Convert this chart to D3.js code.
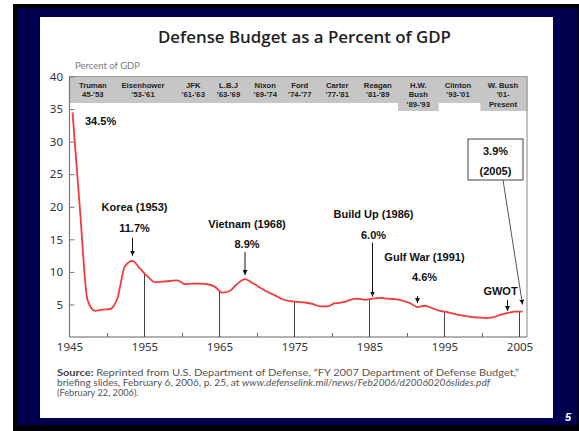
<!DOCTYPE html>
<html>
<head>
<meta charset="utf-8">
<script src="https://cdn.jsdelivr.net/npm/d3@7/dist/d3.min.js"></script>
<style>
body { margin: 0; background: #fff; }
svg { display: block; }
</style>
</head>
<body>
<svg id="chart" width="579" height="431"></svg>
<script>
// Defense budget as a percent of GDP, 1945-2005

var years = [1945, 1946, 1947, 1948, 1949, 1950, 1951, 1952, 1953, 1954,
	1955, 1956, 1957, 1958, 1959, 1960, 1961, 1962, 1963, 1964,
	1965, 1966, 1967, 1968, 1969, 1970, 1971, 1972, 1973, 1974,
	1975, 1976, 1977, 1978, 1979, 1980, 1981, 1982, 1983, 1984,
	1985, 1986, 1987, 1988, 1989, 1990, 1991, 1992, 1993, 1994,
	1995, 1996, 1997, 1998, 1999, 2000, 2001, 2002, 2003, 2004, 2005];
var pctGdp = [34.5, 19.5, 5.7, 4.0, 4.2, 4.3, 6.0, 10.9, 11.7, 10.5,
	9.3, 8.4, 8.5, 8.6, 8.7, 8.1, 8.2, 8.2, 8.1, 7.7,
	6.8, 7.1, 8.2, 8.9, 8.3, 7.6, 6.9, 6.4, 5.8, 5.5,
	5.4, 5.3, 5.1, 4.7, 4.7, 5.2, 5.3, 5.7, 5.9, 5.7,
	5.9, 6.0, 5.9, 5.8, 5.6, 5.2, 4.6, 4.8, 4.4, 4.0,
	3.8, 3.5, 3.3, 3.1, 3.0, 2.9, 3.0, 3.4, 3.7, 3.9, 3.9];

var yTicks = [5, 10, 15, 20, 25, 30, 35, 40];
var xLabels = [1945, 1955, 1965, 1975, 1985, 1995, 2005];
var xMinor = [1950, 1960, 1970, 1980, 1990, 2000];

var presLines = [["Truman", "45-'53"], ["Eisenhower", "'53-'61"], ["JFK", "'61-'63"],
	["L.B.J", "'63-'69"], ["Nixon", "'69-'74"], ["Ford", "'74-'77"], ["Carter", "'77-'81"],
	["Reagan", "'81-'89"], ["H.W.", "Bush", "'89-'93"], ["Clinton", "'93-'01"],
	["W. Bush", "'01-", "Present"]];
// where each name sits along the band (in x-scale years)
var presAt = [1948.1, 1954.8, 1961.5, 1966.2, 1971.1, 1975.7, 1980.7, 1986.1, 1991.5, 1996.8, 2002.8];

var annoTitle = ["Korea (1953)", "Vietnam (1968)", "Build Up (1986)", "Gulf War (1991)", "GWOT"];
var annoPct = ["11.7%", "8.9%", "6.0%", "4.6%", ""];
var annoYear = [1953, 1968, 1985, 1991, 2003];
// layout: label shift, arrow length, gap above line, pct gap
var annoLayout = [
	{dx: 2, len: 18, gap: 5, pgap: 6},
	{dx: 2, len: 23, gap: 4, pgap: 4},
	{dx: 1, len: 54, gap: 2, pgap: 4},
	{dx: 7, len: 7, gap: 4, pgap: 15},
	{dx: -7, len: 11, gap: 2, pgap: 5}
];
var peakLabel = "34.5%";
var boxLines = ["3.9%", "(2005)"];
var boxYear = 2005;

var sourceLines = [
	[["Source: ", "bold", "normal"], ["Reprinted from U.S. Department of Defense, \u201CFY 2007 Department of Defense Budget,\u201D", "normal", "normal"]],
	[["briefing slides, February 6, 2006, p. 25, at ", "normal", "normal"], ["www.defenselink.mil/news/Feb2006/d20060206slides.pdf", "normal", "italic"]],
	[["(February 22, 2006).", "normal", "normal"]]
];

function draw_chart() {
	var svg = d3.select("#chart");

	// slide frame
	svg.append("rect").attr("x", 13).attr("y", 4).attr("width", 566).attr("height", 427).attr("fill", "#000");
	svg.append("rect").attr("x", 17).attr("y", 8).attr("width", 560).attr("height", 417).attr("fill", "#000050");
	svg.append("rect").attr("x", 40).attr("y", 17).attr("width", 513).attr("height", 401).attr("fill", "#fff");
	svg.append("text").attr("x", 568).attr("y", 421).attr("text-anchor", "middle")
		.attr("font-family", "Liberation Sans, Arial, sans-serif").attr("font-size", 11)
		.attr("font-weight", "bold").attr("font-style", "italic").attr("fill", "#fff").text("5");

	svg.append("text").attr("x", 304.5).attr("y", 43).attr("text-anchor", "middle")
		.attr("font-family", "Open Sans, sans-serif").attr("font-size", 17).attr("font-weight", 600)
		.attr("fill", "#222").attr("textLength", 293).attr("lengthAdjust", "spacingAndGlyphs")
		.text("Defense Budget as a Percent of GDP");

	var x = d3.scaleLinear().domain([1945, 2006]).range([69.5, 527]);
	var y = d3.scaleLinear().domain([0, 40]).range([337, 76.5]);
	var px = yr => x(yr + 0.4); // points sit inside their fiscal year

	var pts = years.map((yr, i) => ({year: yr, v: pctGdp[i]}));
	function valueAt(xp) {
		for (var i = 0; i < pts.length - 1; i++) {
			var a = px(pts[i].year), b = px(pts[i + 1].year);
			if (xp >= a && xp <= b) {
				var t = (xp - a) / (b - a);
				return pts[i].v + t * (pts[i + 1].v - pts[i].v);
			}
		}
		return pts[pts.length - 1].v;
	}

	svg.append("text").attr("x", 75).attr("y", 68.5)
		.attr("font-family", "Lato, sans-serif").attr("font-size", 9.5).attr("fill", "#7a7a7a")
		.text("Percent of GDP");

	// president band
	var band = svg.append("g");
	var edges = presAt.map((p, i) => {
		var l = i == 0 ? 1945 : (presAt[i - 1] + p) / 2;
		var r = i == presAt.length - 1 ? 2006 : (p + presAt[i + 1]) / 2;
		return [l, r];
	});
	band.selectAll("rect").data(presLines).enter().append("rect")
		.attr("x", (d, i) => x(edges[i][0]))
		.attr("y", y(40))
		.attr("width", (d, i) => x(edges[i][1]) - x(edges[i][0]) + 0.5)
		.attr("height", d => d.length > 2 ? 34.5 : 26.5)
		.attr("fill", "#c6c6c6");
	band.selectAll("g").data(presLines).enter().append("g")
		.attr("transform", (d, i) => "translate(" + x(presAt[i]) + ",0)")
		.selectAll("text").data(d => d).enter().append("text")
		.attr("y", (d, j) => 87.8 + j * 9.5)
		.attr("text-anchor", "middle")
		.attr("font-family", "Liberation Sans, Arial, sans-serif")
		.attr("font-size", 7.7).attr("font-weight", "bold").attr("fill", "#222")
		.text(d => d);

	// frame
	svg.append("line").attr("x1", x(1945)).attr("x2", x(2006)).attr("y1", y(40)).attr("y2", y(40))
		.attr("stroke", "#999").attr("stroke-width", 1.2);
	svg.append("line").attr("x1", x(2006)).attr("x2", x(2006)).attr("y1", y(40)).attr("y2", y(0))
		.attr("stroke", "#999").attr("stroke-width", 1.2);
	svg.append("line").attr("x1", x(1945)).attr("x2", x(1945)).attr("y1", y(40)).attr("y2", y(0))
		.attr("stroke", "#777").attr("stroke-width", 1.2);
	svg.append("line").attr("x1", x(1945)).attr("x2", x(2006)).attr("y1", y(0)).attr("y2", y(0))
		.attr("stroke", "#666").attr("stroke-width", 1.2);

	// y axis
	var yAxis = svg.append("g").attr("transform", "translate(" + x(1945) + ",0)")
		.call(d3.axisLeft(y).tickValues(yTicks).tickSize(-5).tickPadding(6.5));
	yAxis.select(".domain").remove();
	yAxis.selectAll("line").attr("stroke", "#777");
	yAxis.selectAll("text").attr("font-family", "Noto Sans, sans-serif").attr("font-size", 11.5).attr("fill", "#333");

	// x axis labels and minor ticks
	var xAxis = svg.append("g").attr("transform", "translate(0," + y(0) + ")")
		.call(d3.axisBottom(x).tickValues(xLabels).tickSize(0).tickPadding(5.5).tickFormat(d3.format("d")));
	xAxis.select(".domain").remove();
	xAxis.selectAll("text").attr("font-family", "Noto Sans, sans-serif").attr("font-size", 11.5).attr("fill", "#333");
	var xMin = svg.append("g").attr("transform", "translate(0," + y(0) + ")")
		.call(d3.axisBottom(x).tickValues(xMinor).tickSize(-4).tickFormat(""));
	xMin.select(".domain").remove();
	xMin.selectAll("line").attr("stroke", "#666");

	// drop lines at each labelled decade
	svg.append("g").selectAll("line").data(xLabels.slice(1)).enter().append("line")
		.attr("x1", d => x(d)).attr("x2", d => x(d))
		.attr("y1", y(0)).attr("y2", d => y(valueAt(x(d))))
		.attr("stroke", "#444").attr("stroke-width", 1);

	// the series
	var line = d3.line().x(d => px(d.year)).y(d => y(d.v)).curve(d3.curveMonotoneX);
	svg.append("path").datum(pts).attr("d", line)
		.attr("fill", "none").attr("stroke", "#f43a3a").attr("stroke-width", 1.8)
		.attr("stroke-linejoin", "round");

	// arrows
	svg.append("defs").append("marker").attr("id", "head")
		.attr("viewBox", "0 0 10 10").attr("refX", 10).attr("refY", 5)
		.attr("markerWidth", 5).attr("markerHeight", 5).attr("markerUnits", "userSpaceOnUse")
		.attr("orient", "auto")
		.append("path").attr("d", "M0,0L10,5L0,10z").attr("fill", "#111");

	var font = "Liberation Sans, Arial, sans-serif";
	svg.append("text").attr("x", px(1945) + 12.5).attr("y", y(pctGdp[0]) + 13)
		.attr("font-family", font).attr("font-size", 11).attr("font-weight", "bold").attr("fill", "#111")
		.text(peakLabel);

	var anno = svg.append("g").selectAll("g").data(annoTitle).enter().append("g")
		.attr("transform", (d, i) => {
			var v = pctGdp[years.indexOf(annoYear[i])];
			return "translate(" + px(annoYear[i]) + "," + (y(v) - annoLayout[i].gap) + ")";
		});
	anno.append("line")
		.attr("x1", 0).attr("x2", 0)
		.attr("y1", (d, i) => -annoLayout[i].len).attr("y2", 0)
		.attr("stroke", "#111").attr("stroke-width", 1).attr("marker-end", "url(#head)");
	anno.append("text")
		.attr("x", (d, i) => annoLayout[i].dx)
		.attr("y", (d, i) => -annoLayout[i].len - annoLayout[i].pgap)
		.attr("text-anchor", "middle").attr("font-family", font).attr("font-size", 11)
		.attr("font-weight", "bold").attr("fill", "#111")
		.text((d, i) => annoPct[i]);
	anno.append("text")
		.attr("x", (d, i) => annoLayout[i].dx)
		.attr("y", (d, i) => -annoLayout[i].len - annoLayout[i].pgap - (annoPct[i] ? 20.5 : 0))
		.attr("text-anchor", "middle").attr("font-family", font).attr("font-size", 11)
		.attr("font-weight", "bold").attr("fill", "#111")
		.text(d => d);

	// boxed call-out for 2005
	var tipX = px(boxYear), tipY = y(pctGdp[years.indexOf(boxYear)]) - 7;
	svg.append("line").attr("x1", tipX - 19.5).attr("y1", 180).attr("x2", tipX).attr("y2", tipY)
		.attr("stroke", "#444").attr("stroke-width", 0.9).attr("marker-end", "url(#head)");
	svg.append("rect").attr("x", 468).attr("y", 139).attr("width", 55).attr("height", 41)
		.attr("fill", "#fff").attr("stroke", "#444").attr("stroke-width", 1);
	svg.append("g").selectAll("text").data(boxLines).enter().append("text")
		.attr("x", 495.5).attr("y", (d, i) => 155 + i * 20)
		.attr("text-anchor", "middle").attr("font-family", font).attr("font-size", 11)
		.attr("font-weight", "bold").attr("fill", "#111")
		.text(d => d);

	// source note
	var widths = [462, 433, null];
	sourceLines.forEach((parts, i) => {
		var t = svg.append("text").attr("x", 57).attr("y", 376 + i * 10)
			.attr("font-family", "Lato, sans-serif").attr("font-size", 9.2).attr("fill", "#555");
		if (widths[i]) t.attr("textLength", widths[i]).attr("lengthAdjust", "spacingAndGlyphs");
		parts.forEach(p => {
			t.append("tspan").attr("font-weight", p[1]).attr("font-style", p[2])
				.attr("fill", p[1] == "bold" ? "#444" : "#555").text(p[0]);
		});
	});
}

draw_chart();
</script>
</body>
</html>
